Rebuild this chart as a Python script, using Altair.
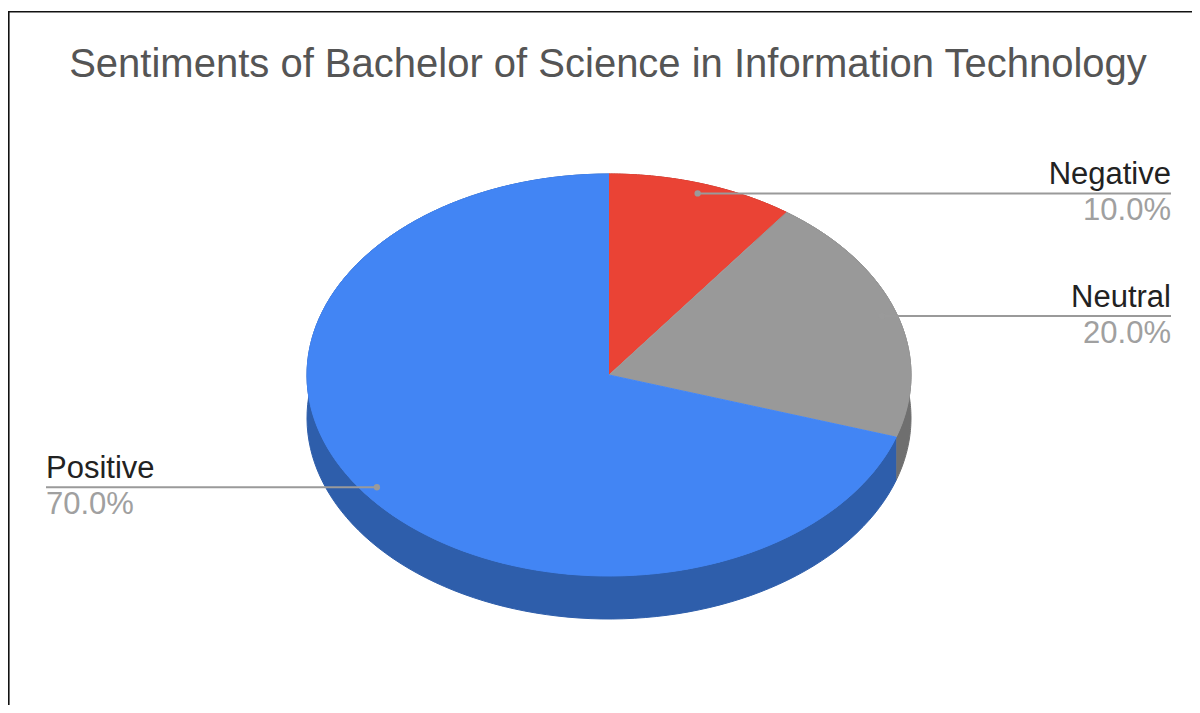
import altair as alt
import pandas as pd

TITLE = "Sentiments of Bachelor of Science in Information Technology"
categories = ["Negative", "Neutral", "Positive"]
values = [10, 20, 70]

top_colors = ["#ea4335", "#999999", "#4285f4"]
side_colors = ["#a32f25", "#6f6f6f", "#2e5eab"]

# layout (page pixels)
W, H = 1184, 697
OX, OY = 8, 8
CX, CY, RX, RY, DEPTH = 609, 375, 302, 201, 43
N = 120
LBL_R, LBL_L = CX + 562, CX - 563
FONT = "Liberation Sans"

df = pd.DataFrame({"category": categories, "value": values, "k": list(range(len(categories)))})

xs = alt.Scale(domain=[OX, OX + W], nice=False, zero=False)
ys = alt.Scale(domain=[OY, OY + H], nice=False, zero=False, reverse=True)

base = (
    alt.Chart(df)
    .transform_joinaggregate(total="sum(value)")
    .transform_window(cum="sum(value)", sort=[alt.SortField("k")], frame=[None, 0])
    .transform_calculate(
        a0="2*PI*(datum.cum-datum.value)/datum.total",
        a1="2*PI*datum.cum/datum.total",
        mid="PI*(2*datum.cum-datum.value)/datum.total",
        pct="format(datum.value/datum.total, '.1%')",
    )
)

X = alt.X("px:Q", scale=xs, axis=None)
Y = alt.Y("py:Q", scale=ys, axis=None)

side = (
    base.transform_calculate(i=f"sequence(0, {2 * N + 2})")
    .transform_flatten(["i"])
    .transform_calculate(
        ang=f"datum.i <= {N} ? datum.a0 + datum.i/{N}*(datum.a1-datum.a0) : datum.a1 - (datum.i-{N + 1})/{N}*(datum.a1-datum.a0)",
        px=f"{CX} + {RX}*sin(datum.ang)",
        py=f"{CY} - {RY}*cos(datum.ang) + (datum.i <= {N} ? 0 : {DEPTH})",
    )
    .mark_line(strokeWidth=1, interpolate="linear")
    .encode(
        x=X, y=Y, order="i:Q", detail="category:N",
        fill=alt.Fill("category:N", scale=alt.Scale(domain=categories, range=side_colors), legend=None),
        stroke=alt.Stroke("category:N", scale=alt.Scale(domain=categories, range=side_colors), legend=None),
    )
)

top = (
    base.transform_calculate(i=f"sequence(0, {N + 2})")
    .transform_flatten(["i"])
    .transform_calculate(
        ang=f"datum.a0 + (datum.i-1)/{N}*(datum.a1-datum.a0)",
        px=f"datum.i == 0 ? {CX} : {CX} + {RX}*sin(datum.ang)",
        py=f"datum.i == 0 ? {CY} : {CY} - {RY}*cos(datum.ang)",
    )
    .mark_line(strokeWidth=1, interpolate="linear")
    .encode(
        x=X, y=Y, order="i:Q", detail="category:N",
        fill=alt.Fill("category:N", scale=alt.Scale(domain=categories, range=top_colors), legend=None),
        stroke=alt.Stroke("category:N", scale=alt.Scale(domain=categories, range=top_colors), legend=None),
    )
)

lab = base.transform_calculate(
    px=f"{CX} + 0.95*{RX}*sin(datum.mid)",
    py=f"{CY} - 0.95*{RY}*cos(datum.mid)",
    lx=f"datum.mid < PI ? {LBL_R} : {LBL_L}",
)

rules = lab.mark_rule(color="#9a9a9a", strokeWidth=2).encode(
    x=X, x2="lx:Q", y=Y
)
dots = lab.mark_circle(size=40, color="#9a9a9a", opacity=1).encode(x=X, y=Y)

LX = alt.X("lx:Q", scale=xs, axis=None)

names_r = lab.transform_filter("datum.mid < PI").mark_text(
    align="right", baseline="alphabetic", dy=-9, fontSize=31, font=FONT, color="#222222"
).encode(x=LX, y=Y, text="category:N")
pct_r = lab.transform_filter("datum.mid < PI").mark_text(
    align="right", baseline="alphabetic", dy=27, fontSize=31, font=FONT, color="#a0a0a0"
).encode(x=LX, y=Y, text="pct:N")
names_l = lab.transform_filter("datum.mid >= PI").mark_text(
    align="left", baseline="alphabetic", dy=-9, fontSize=31, font=FONT, color="#222222"
).encode(x=LX, y=Y, text="category:N")
pct_l = lab.transform_filter("datum.mid >= PI").mark_text(
    align="left", baseline="alphabetic", dy=27, fontSize=31, font=FONT, color="#a0a0a0"
).encode(x=LX, y=Y, text="pct:N")

one = alt.Data(values=[{}])
title = alt.Chart(one).mark_text(
    text=TITLE, align="center", baseline="alphabetic", fontSize=40, font=FONT, color="#555555"
).encode(x=alt.value(600), y=alt.value(69))

border_top = alt.Chart(one).mark_rule(color="#111111", strokeWidth=1.6).encode(
    x=alt.value(0), x2=alt.value(W), y=alt.value(3.8)
)
border_left = alt.Chart(one).mark_rule(color="#111111", strokeWidth=1.6).encode(
    x=alt.value(0.8), y=alt.value(3), y2=alt.value(H)
)

chart = (
    alt.layer(side, top, rules, dots, names_r, pct_r, names_l, pct_l, title, border_top, border_left)
    .resolve_scale(fill="independent", stroke="independent")
    .properties(width=W, height=H, padding=0, autosize=alt.AutoSizeParams(type="none"), background="white")
    .configure_view(stroke=None)
)

chart.save("out.html", embed_options={"renderer": "svg", "actions": False})
